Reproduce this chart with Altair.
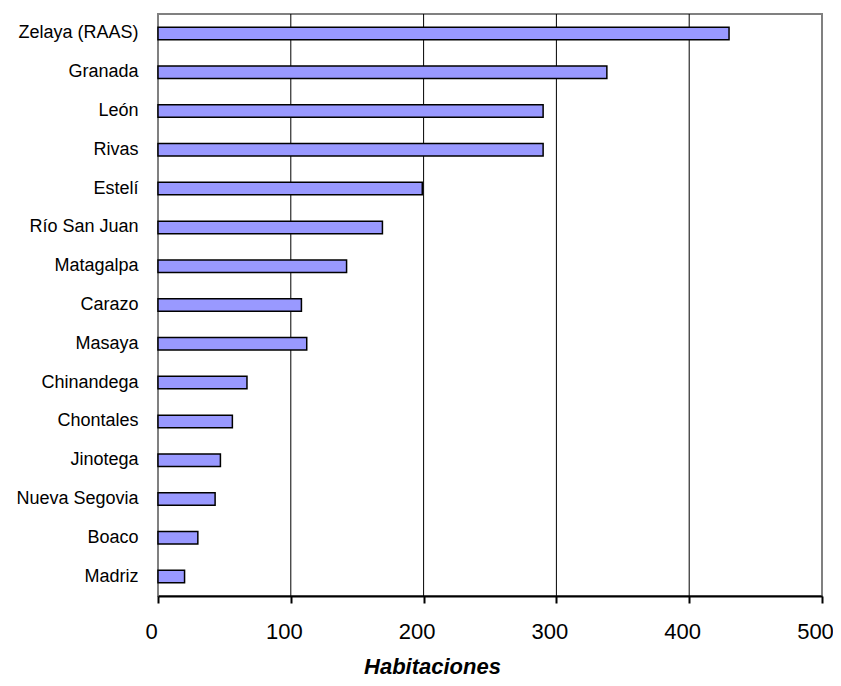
import altair as alt
import pandas as pd

categories = ["Zelaya (RAAS)", "Granada", "León", "Rivas", "Estelí", "Río San Juan",
              "Matagalpa", "Carazo", "Masaya", "Chinandega", "Chontales", "Jinotega",
              "Nueva Segovia", "Boaco", "Madriz"]
values = [430, 338, 290, 290, 199, 169, 142, 108, 112, 67, 56, 47, 43, 30, 20]
x_ticks = [0, 100, 200, 300, 400, 500]
grid_values = [100, 200, 300, 400]

df = pd.DataFrame({"Departamento": categories, "Habitaciones": values})
grid_df = pd.DataFrame({"Habitaciones": grid_values})

FONT = "Liberation Sans"
xscale = alt.Scale(domain=[0, 500], nice=False, zero=True)
xaxis = alt.Axis(values=x_ticks, grid=False, format="d",
                 domainColor="black", domainWidth=2,
                 tickColor="black", tickWidth=2, tickSize=7,
                 labelFont=FONT, labelFontSize=22, labelColor="black",
                 labelPadding=18, labelOffset=-7, labelFlush=False,
                 title="Habitaciones", titleFont=FONT, titleFontSize=22,
                 titleFontWeight="bold", titleFontStyle="italic",
                 titleColor="black", titleX=274, titleY=77,
                 titleAlign="center", titleBaseline="alphabetic")

grid = alt.Chart(grid_df).mark_rule(color="black", strokeWidth=1).encode(
    x=alt.X("Habitaciones:Q", scale=xscale, axis=xaxis)
)

bars = alt.Chart(df).mark_bar(
    color="#9999FF", stroke="black", strokeWidth=1.5, size=12.5
).encode(
    y=alt.Y("Departamento:N", sort=categories,
            scale=alt.Scale(paddingInner=0, paddingOuter=0),
            axis=alt.Axis(title=None, ticks=False, domain=False, grid=False,
                          labelFont=FONT, labelFontSize=18, labelColor="black",
                          labelPadding=20)),
    x=alt.X("Habitaciones:Q", scale=xscale, axis=xaxis)
)

chart = alt.layer(grid, bars).properties(
    width=664, height=582,
    background="white",
    autosize=alt.AutoSizeParams(type="none"),
    padding={"left": 150, "top": 6, "right": 11, "bottom": 83},
).configure_view(
    stroke="#808080", strokeWidth=2
)

chart.save("out.html", embed_options={"renderer": "svg", "actions": False})
